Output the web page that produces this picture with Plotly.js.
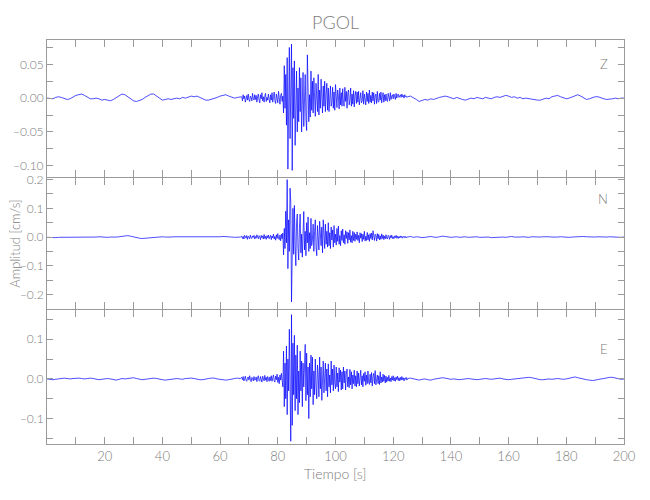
<!DOCTYPE html>
<html>
<head>
<meta charset="utf-8">
<script src="https://cdn.plot.ly/plotly-3.0.1.min.js"></script>
<style>html,body{margin:0;padding:0;background:#fff;}#chart{width:650px;height:500px;}</style>
</head>
<body>
<div id="chart"></div>
<script>
// ---- Data (amplitudes in 1e-3 cm/s) ----
// Segment timing: quiet A = 0..67 s every 1 s, active = 67.5..125 s every 0.25 s, quiet B = 126..200 s every 1 s
const quietAStart = 0, quietAStep = 1;
const activeStart = 67.5, activeStep = 0.25;
const quietBStart = 126, quietBStep = 1;

// Z component
const zQuietA = [0,0,-1,1,2,1,-1,-2,-1,2, 4,5,6,4,1,-1,-1,0,-1,-3, -2,-3,-4,-2,1,4,6,5,2,-2,
  -4,-5,-4,-2,1,4,6,6,3,-1, -3,-2,-1,-2,-1,0,-1,1,0,2, 3,2,3,1,-1,-3,-3,-2,-1,1, 3,4,5,3,1,0,1,2];
const zActive = [
  2,-4,5,-1,3,-6,1,4,-3,6,-2,-5,3,1,-4,7,-1,-3,5,-2,
  4,-6,2,6,-3,-7,5,-1,8,-4,2,-6,3,7,-5,1,-3,6,-2,-7,
  5,-3,8,-6,2,9,-4,-8,6,1,-7,10,-2,-9,4,7,-5,3,-22,48,
  -15,35,-40,60,-105,20,75,-60,10,80,-107,45,-30,55,-70,25,40,-50,15,-35,
  45,-20,30,-50,10,38,-42,-15,35,-30,-48,64,20,-35,5,-28,40,-18,25,-22,
  30,-10,-27,22,8,-20,35,-25,12,-15,28,-8,-22,18,-12,25,-20,6,22,-18,
  15,-20,5,18,-12,-6,16,-15,9,-18,20,-4,-14,12,3,-16,15,-10,8,-12,
  14,-8,-12,16,-5,10,-15,7,12,-10,-3,15,-12,6,-9,11,-13,4,10,-8,
  9,-6,10,-10,3,8,-7,-4,11,-9,6,-2,-10,9,-5,7,-8,12,-6,4,
  -7,9,-4,8,-9,3,6,-8,10,-5,-6,7,-3,9,-7,2,8,-6,5,-4,
  6,-3,-5,7,1,-4,8,-2,3,5,-1,6,2,-2,7,0,4,6,1,3,
  5,1,6,2,4,0,5,2,3,1,2];
const zQuietB = [3,1,-2,-5,-4,-2,-3,-1,-2,0, 1,2,3,2,0,-1,1,-1,-2,-3, -2,0,-1,1,0,-1,1,0,-1,1,
  2,1,3,4,3,1,2,0,1,-1, 0,-1,-2,-2,-3,-3,-1,0,-1,2, 3,4,2,0,-1,0,2,4,5,3, 0,-2,-1,1,2,2,0,-1,-2,-2, -1,0,-1,0,0];

// N component
const nQuietA = [-1,-2,-3,-2,-1,-1,-2,-1,0,-1, -1,-2,-1,0,0,-1,-1,0,1,0, -1,-1,0,-1,0,1,2,4,5,3,
  0,-2,-4,-5,-4,-2,-1,0,1,2, 1,0,-1,0,1,1,0,-1,-1,0, -1,0,0,-1,0,1,0,-1,0,0, 1,2,2,1,0,-1,-1,0];
const nActive = [
  3,-5,2,-7,6,-2,-4,5,-8,3,1,-6,7,-3,-5,4,-1,6,-7,2,
  -4,8,-3,-6,5,1,-9,6,-2,4,-7,9,-5,2,-8,5,-3,7,-6,3,
  6,-9,4,-3,10,-7,2,-11,8,-5,12,-4,-9,7,-13,10,-6,14,-62,30,
  -40,90,-20,200,-110,60,-50,170,120,-226,40,100,-60,110,-30,-100,50,80,-40,-80,
  30,80,-55,10,-70,60,89,-45,20,-65,50,-20,70,-50,15,-40,65,-30,-10,45,
  -50,20,60,-35,-65,40,10,-45,55,-20,-30,35,-55,60,-10,-40,45,-25,20,-35,
  50,-30,15,-40,35,-10,25,-35,40,-20,10,-28,30,-15,38,-25,5,-30,22,-12,
  28,-20,8,-25,22,-5,18,-22,15,-10,25,-18,5,-20,20,-12,16,-15,10,-8,
  18,-12,6,-20,15,-4,12,-16,10,-8,20,-14,3,-12,16,-10,8,-15,12,-5,
  14,-10,22,-8,-12,10,5,-14,12,-6,9,-10,4,-8,11,-5,7,-9,3,-6,
  8,-4,-7,6,2,-8,5,-3,7,-5,1,-6,4,-2,6,-4,3,-5,2,-3,
  4,-2,3,-4,1,3,-2,2,-3,1,0];
const nQuietB = [2,-1,1,0,-2,-1,1,2,0,-1, 1,3,2,0,-1,0,1,-1,0,1, -1,0,2,1,-1,0,1,0,-2,-1,
  0,1,0,-1,1,2,0,-1,0,1, 0,-1,1,0,-1,0,1,2,1,0, -1,0,1,0,-1,-1,0,1,0,1, 2,1,0,-1,0,1,0,-1,0,1, 0,-1,0,-1,0];

// E component
const eQuietA = [0,-1,-2,-1,0,1,2,1,0,1, 2,2,1,0,1,2,1,-1,-2,-1, 0,1,0,-2,-3,-1,1,0,1,3,
  3,1,-1,-2,-1,0,1,2,1,-1, -2,-3,-2,-1,0,1,0,-1,1,2, 2,1,-1,-2,-2,0,1,2,2,0, -1,-2,-3,-2,0,1,2,1];
const eActive = [
  4,-2,6,-5,1,7,-4,-6,3,5,-3,8,-1,-7,4,2,-5,6,-3,-2,
  5,-7,3,8,-4,-6,6,1,-8,7,-2,-5,9,-3,4,-7,6,-1,-6,5,
  -4,8,-6,3,10,-5,-8,7,-2,12,-9,4,-12,10,-3,14,-8,-20,70,-70,
  40,-50,83,-90,50,-30,125,-60,-157,162,-117,90,-40,110,-80,60,-50,85,-90,20,
  -60,70,-30,45,-70,40,-20,30,87,-55,65,-40,30,-100,40,-45,60,-25,55,-65,
  20,-40,50,-15,-50,35,10,-45,55,-25,30,-54,15,45,-35,-10,40,-30,25,-45,
  38,-20,10,-35,45,-15,25,-30,35,-10,-25,30,-20,15,-32,28,-8,22,-28,18,
  -25,30,-10,20,-28,12,25,-20,5,-22,24,-15,18,-25,10,-12,22,-18,8,-20,
  20,-12,15,-18,5,22,-15,8,-20,14,-6,18,-16,10,-12,20,-8,-14,12,-10,
  16,-18,6,14,-12,21,-15,4,10,-12,8,-14,18,-10,5,-8,12,-6,9,-10,
  7,-8,4,-5,9,-6,2,-7,6,-3,8,-5,3,-6,5,-2,7,-4,3,-5,
  4,-3,6,-2,3,-5,2,-1,4,-3,1];
const eQuietB = [2,0,-2,-3,-1,0,-2,-3,-1,0, 1,3,2,0,-1,0,-1,-2,-1,0, 1,0,-1,-2,-1,0,1,0,-1,0,
  1,2,0,-1,-2,-1,0,1,2,3, 4,4,3,1,-1,-2,-2,-1,0,-1, 0,1,0,-1,0,2,4,5,3,1, -1,-2,-3,-4,-3,-1,0,1,3,4, 4,2,0,-1,0];

const componentNames = ['Z', 'N', 'E'];
const stationName = 'PGOL';
const xTitle = 'Tiempo [s]';
const yTitle = 'Amplitud [cm/s]';
const timeTickLabels = [20, 40, 60, 80, 100, 120, 140, 160, 180, 200];

// ---- Build traces ----
function segment(vals, start, step) {
  return { t: vals.map((_, i) => start + i * step), v: vals.map(x => x / 1000) };
}
function trace(qa, act, qb, xa, ya) {
  const a = segment(qa, quietAStart, quietAStep);
  const b = segment(act, activeStart, activeStep);
  const c = segment(qb, quietBStart, quietBStep);
  return {
    x: a.t.concat(b.t, c.t), y: a.v.concat(b.v, c.v),
    type: 'scatter', mode: 'lines', xaxis: xa, yaxis: ya,
    line: { color: '#0000ff', width: 0.7 }, hoverinfo: 'skip', showlegend: false
  };
}
const data = [
  trace(zQuietA, zActive, zQuietB, 'x', 'y'),
  trace(nQuietA, nActive, nQuietB, 'x2', 'y2'),
  trace(eQuietA, eActive, eQuietB, 'x3', 'y3')
];

const F = 'Lato, Liberation Sans Narrow, DejaVu Sans Condensed, sans-serif';
const W = 300;
const GRAY = '#9a9a9a';
const TXT = '#7c7c7c';
const common = {
  showline: true, linecolor: GRAY, linewidth: 1, mirror: 'ticks', ticks: 'inside',
  tickcolor: GRAY, tickwidth: 1, showgrid: false, zeroline: false,
  tickfont: { family: F, size: 13, color: TXT, weight: W }
};
function xax(anchor, labels) {
  return Object.assign({}, common, {
    anchor: anchor, domain: [0, 1], range: [0, 200], tickmode: 'array', tickvals: timeTickLabels,
    ticklen: 7, showticklabels: labels,
    minor: { tickmode: 'linear', tick0: 0, dtick: 10, ticklen: 7, tickcolor: GRAY, ticks: 'inside' }
  });
}
function yax(anchor, domain, range, vals, fmt, minorStep) {
  return Object.assign({}, common, {
    anchor: anchor, domain: domain, range: range, tickmode: 'array', tickvals: vals,
    tickformat: fmt, ticklen: 6, tickfont: { family: F, size: 12, color: TXT, weight: W },
    minor: { tickmode: 'linear', tick0: 0, dtick: minorStep, ticklen: 6, tickcolor: GRAY, ticks: 'inside' }
  });
}
const labFont = { family: F, size: 13, color: TXT, weight: W };

const layout = {
  width: 650, height: 500,
  margin: { l: 47, r: 26, t: 40, b: 56 },
  paper_bgcolor: '#fff', plot_bgcolor: '#fff',
  font: { family: F, color: TXT },
  title: { text: stationName, font: { family: F, size: 18, color: TXT, weight: W }, x: 0.5, xref: 'paper', y: 0.954, yref: 'container', yanchor: 'middle' },
  xaxis: xax('y', false),
  xaxis2: Object.assign(xax('y2', false), { matches: 'x' }),
  xaxis3: Object.assign(xax('y3', true), { matches: 'x' }),
  yaxis: yax('x', [0.6605, 1], [-0.117, 0.086], [-0.10, -0.05, 0, 0.05], '.2f', 0.025),
  yaxis2: yax('x2', [0.3345, 0.658], [-0.25, 0.205], [-0.2, -0.1, 0, 0.1, 0.2], '.1f', 0.05),
  yaxis3: yax('x3', [0, 0.332], [-0.164, 0.174], [-0.1, 0, 0.1], '.1f', 0.05),
  annotations: [
    { text: componentNames[0], xref: 'paper', x: 0.975, yref: 'y domain', y: 0.9, showarrow: false, font: labFont },
    { text: componentNames[1], xref: 'paper', x: 0.975, yref: 'y2 domain', y: 0.915, showarrow: false, font: labFont },
    { text: componentNames[2], xref: 'paper', x: 0.975, yref: 'y3 domain', y: 0.78, showarrow: false, font: labFont },
    { text: yTitle, xref: 'paper', x: -0.057, xanchor: 'center', yref: 'y2 domain', y: 0.5, yanchor: 'middle',
      textangle: -90, showarrow: false, font: labFont },
    { text: xTitle, xref: 'paper', x: 0.5, xanchor: 'center', yref: 'paper', y: -0.072, yanchor: 'middle',
      showarrow: false, font: { family: F, size: 14, color: TXT, weight: W } }
  ]
};

Plotly.newPlot('chart', data, layout, { staticPlot: true, displayModeBar: false });
</script>
</body>
</html>
